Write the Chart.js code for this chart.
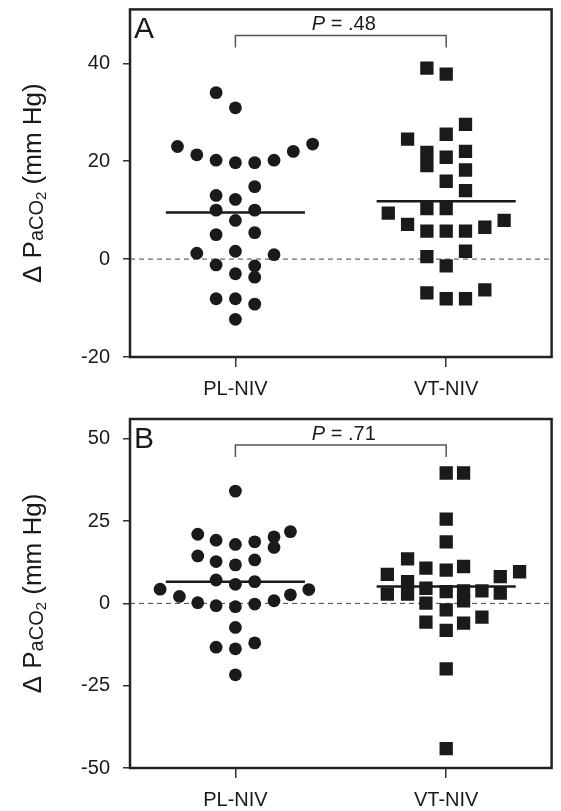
<!DOCTYPE html>
<html>
<head>
<meta charset="utf-8">
<script src="https://cdn.jsdelivr.net/npm/chart.js@4.4.1/dist/chart.umd.min.js"></script>
<style>
  body { margin: 0; background: #fff; }
  canvas { position: absolute; left: 0; }
  #chartA { top: 0; }
  #chartB { top: 400px; }
</style>
</head>
<body>
<canvas id="chartA" width="561" height="400"></canvas>
<canvas id="chartB" width="561" height="411"></canvas>
<script>
const groups = ["PL-NIV", "VT-NIV"];

// Panel A: change in PaCO2 (mm Hg) and the swarm column of each point
const plValuesA = [34.0, 30.9, 23.0, 21.3, 20.2, 19.7, 19.7, 20.2, 22.0, 23.5, 14.8, 13.0, 12.2, 10.0, 10.0,
  7.9, 5.0, 5.4, 1.2, 1.6, 0.9, -1.2, -1.4, -3.0, -3.7, -8.1, -8.1, -9.2, -12.3];
const plColsA = [-1, 0, -3, -2, -1, 0, 1, 2, 3, 4, 1, -1, 0, -1, 1,
  0, -1, 1, -2, 0, 2, -1, 1, 0, 1, -1, 0, 1, 0];
const vtValuesA = [39.0, 37.8, 27.5, 24.5, 25.5, 21.8, 19.1, 20.8, 22.0, 18.2, 15.9, 14.0, 10.3, 10.3,
  9.4, 7.1, 5.7, 5.7, 5.7, 6.5, 7.9, 0.5, 1.6, -1.4, -6.9, -8.1, -8.1, -6.3];
const vtColsA = [-1, 0, 1, -2, 0, -1, -1, 0, 1, 1, 0, 1, -1, 0,
  -3, -2, -1, 0, 1, 2, 3, -1, 1, 0, -1, 0, 1, 2];
const meansA = [9.5, 11.8];
const yTicksA = [-20, 0, 20, 40];

// Panel B
const plValuesB = [34.1, 21.0, 19.2, 17.9, 18.7, 20.2, 17.0, 21.8, 14.4, 12.7, 11.7, 13.2, 7.1, 5.8, 6.6,
  4.3, 2.1, 0.2, -0.7, -1.0, -0.2, 0.8, 2.6, 4.2, -7.3, -13.3, -13.8, -12.0, -21.7];
const plColsB = [0, -1.95, -1, 0, 1, 2, 2, 2.85, -1.95, -1, 0, 1, -1, 0, 1,
  -3.9, -2.9, -1.95, -1, 0, 1, 2, 2.85, 3.8, 0, -1, 0, 1, 0];
const vtValuesB = [39.6, 39.6, 25.6, 18.7, 13.5, 8.8, 10.7, 10.1, 11.2, 8.1, 9.6, 6.6, 2.8, 2.8,
  4.6, 0.1, 3.6, -2.0, 3.8, 0.8, 3.8, 3.1, -5.7, -8.2, -6.0, -4.2, -19.9, -44.1];
const vtColsB = [0, 0.9, 0, 0, -2, -3.05, -1.05, 0, 0.9, 2.8, 3.8, -2, -2, -3.05,
  -1.05, -1.05, 0, 0, 0.9, 0.9, 1.85, 2.8, -1.05, 0, 0.9, 1.85, 0, 0];
const meansB = [6.6, 5.1];
const yTicksB = [-50, -25, 0, 25, 50];

const colStep = 0.0916;
const meanHalf = 0.33;
const ink = "#1a1a1a";
const fontFam = "'Liberation Sans', Arial, sans-serif";

function swarm(group, values, cols) {
  return values.map((v, i) => ({ x: group + 1 + cols[i] * colStep, y: v }));
}

function meanLine(group, m) {
  return [{ x: group + 1 - meanHalf, y: m }, { x: group + 1 + meanHalf, y: m }];
}

// frame, zero line, panel letter, P bracket and y title
const decor = {
  id: "decor",
  beforeDatasetsDraw(chart) {
    const { ctx, chartArea: a, scales } = chart;
    const y0 = scales.y.getPixelForValue(0);
    ctx.save();
    ctx.strokeStyle = "#444";
    ctx.lineWidth = 1;
    ctx.setLineDash([5, 4]);
    ctx.beginPath();
    ctx.moveTo(a.left, y0);
    ctx.lineTo(a.right, y0);
    ctx.stroke();
    ctx.restore();
  },
  afterDraw(chart, args, opts) {
    const { ctx, chartArea: a, scales } = chart;
    ctx.save();
    ctx.strokeStyle = "#222";
    ctx.lineWidth = 2.5;
    ctx.strokeRect(a.left, a.top, a.right - a.left, a.bottom - a.top);

    ctx.fillStyle = ink;
    ctx.textBaseline = "alphabetic";
    ctx.textAlign = "left";
    ctx.font = "30px " + fontFam;
    ctx.fillText(opts.letter, a.left + 4, a.top + 29);

    // P bracket
    const x1 = scales.x.getPixelForValue(1);
    const x2 = scales.x.getPixelForValue(2);
    const by = a.top + 26;
    ctx.strokeStyle = "#555";
    ctx.lineWidth = 1.5;
    ctx.beginPath();
    ctx.moveTo(x1, a.top + 38);
    ctx.lineTo(x1, by);
    ctx.lineTo(x2, by);
    ctx.lineTo(x2, a.top + 38);
    ctx.stroke();

    ctx.font = "italic 20px " + fontFam;
    const wP = ctx.measureText("P").width;
    ctx.font = "20px " + fontFam;
    const rest = " = " + opts.p;
    const wR = ctx.measureText(rest).width;
    let tx = (x1 + x2) / 2 + 3 - (wP + wR) / 2;
    ctx.font = "italic 20px " + fontFam;
    ctx.fillText("P", tx, a.top + 20.5);
    ctx.font = "20px " + fontFam;
    ctx.fillText(rest, tx + wP, a.top + 20.5);

    // y axis title with subscripts
    const parts = [
      ["\u0394 P", 26, 0],
      ["aCO", 20, 1.5],
      ["2", 15, 4.5],
      [" (mm Hg)", 26, 0]
    ];
    let total = 0;
    parts.forEach(p => { ctx.font = p[1] + "px " + fontFam; total += ctx.measureText(p[0]).width; });
    ctx.translate(41, (a.top + a.bottom) / 2);
    ctx.rotate(-Math.PI / 2);
    let px = -total / 2;
    parts.forEach(p => {
      ctx.font = p[1] + "px " + fontFam;
      ctx.fillText(p[0], px, p[2]);
      px += ctx.measureText(p[0]).width;
    });
    ctx.restore();
  }
};

function noPad(s) {
  s.paddingTop = 0;
  s.paddingBottom = 0;
  s.paddingLeft = 0;
  s.paddingRight = 0;
}

function makeChart(id, pl, plCols, vt, vtCols, means, ticks, yMin, yMax, topPad, canvasH, bottomY, letter, p) {
  new Chart(document.getElementById(id), {
    type: "scatter",
    data: {
      datasets: [
        { type: "line", data: meanLine(0, means[0]), borderColor: ink, borderWidth: 2.5, pointRadius: 0 },
        { type: "line", data: meanLine(1, means[1]), borderColor: ink, borderWidth: 2.5, pointRadius: 0 },
        { data: swarm(0, pl, plCols), pointStyle: "circle", pointRadius: 6.4, backgroundColor: ink, borderWidth: 0 },
        { data: swarm(1, vt, vtCols), pointStyle: "rect", pointRadius: 9.4, backgroundColor: ink, borderWidth: 0 }
      ]
    },
    options: {
      responsive: false,
      animation: false,
      layout: { padding: { left: 0, right: 3, top: topPad, bottom: 0 } },
      plugins: {
        legend: { display: false },
        tooltip: { enabled: false },
        decor: { letter: letter, p: p }
      },
      scales: {
        x: {
          type: "linear",
          min: 0.5,
          max: 2.5,
          afterBuildTicks: s => { s.ticks = [{ value: 1 }, { value: 2 }]; },
          afterFit: s => { s.height = canvasH - bottomY; noPad(s); },
          ticks: {
            callback: v => groups[v - 1],
            color: ink,
            font: { family: fontFam, size: 20 },
            padding: 10,
            maxRotation: 0
          },
          grid: { drawOnChartArea: false, tickLength: 10, color: "#333", lineWidth: 1.5 },
          border: { display: false }
        },
        y: {
          min: yMin,
          max: yMax,
          afterBuildTicks: s => { s.ticks = ticks.map(v => ({ value: v })); },
          afterFit: s => { s.width = 130; noPad(s); },
          ticks: { color: ink, font: { family: fontFam, size: 20 }, padding: 13 },
          grid: { drawOnChartArea: false, tickLength: 7, color: "#333", lineWidth: 1.5 },
          border: { display: false }
        }
      }
    },
    plugins: [decor]
  });
}

makeChart("chartA", plValuesA, plColsA, vtValuesA, vtColsA, meansA, yTicksA, -20, 51, 9, 400, 357, "A", ".48");
makeChart("chartB", plValuesB, plColsB, vtValuesB, vtColsB, meansB, yTicksB, -50, 56, 19, 411, 368, "B", ".71");
</script>
</body>
</html>
